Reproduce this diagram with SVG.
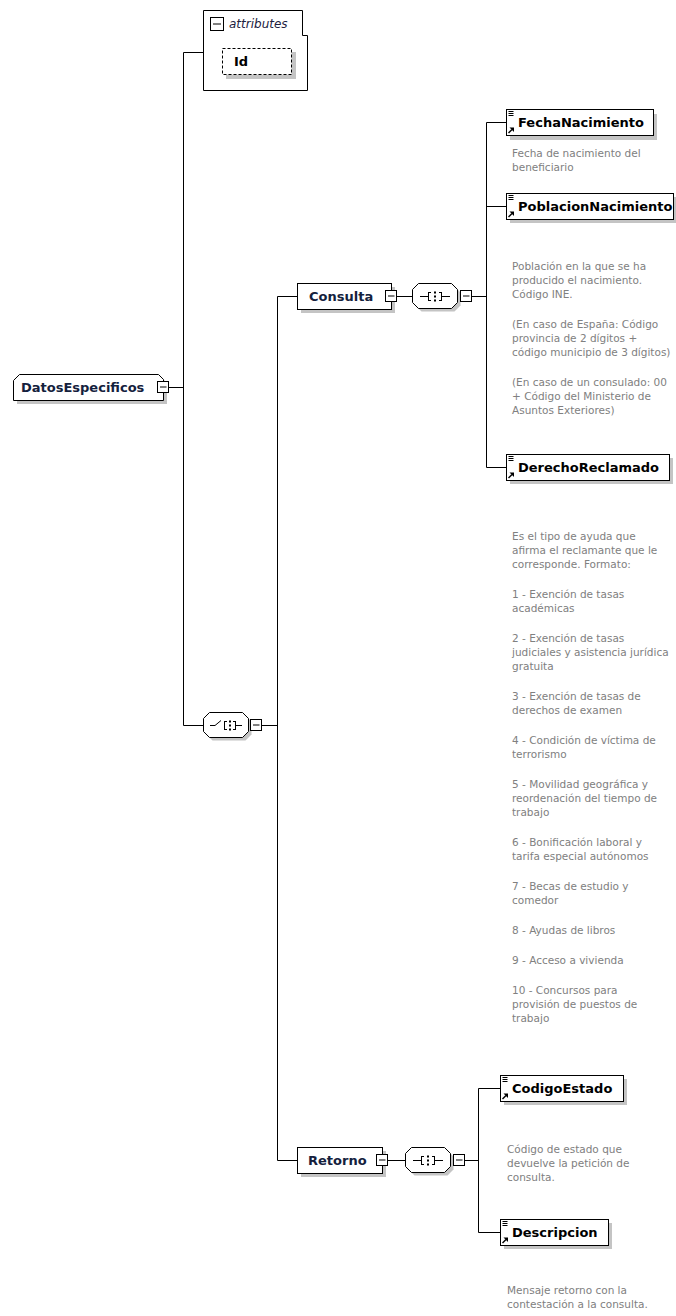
<svg xmlns="http://www.w3.org/2000/svg" width="676" height="1316" viewBox="0 0 676 1316">
<style>
.ln{stroke:#000;stroke-width:1;fill:none}
.box{fill:#fff;stroke:#000;stroke-width:1}
.sh{fill:#c4c4c4;stroke:none}
.nm{font-family:"DejaVu Sans",sans-serif;font-weight:bold;font-size:13px;fill:#000}
.nm2{font-family:"DejaVu Sans",sans-serif;font-weight:bold;font-size:13px;fill:#14213d}
.ds{font-family:"DejaVu Sans",sans-serif;font-size:10.5px;fill:#808080}
.at{font-family:"DejaVu Sans",sans-serif;font-style:italic;font-size:12px;fill:#202040}
</style>
<defs>
<g id="minus"><rect x="0.5" y="0.5" width="11" height="11" class="box"/><line x1="3" y1="6" x2="9.5" y2="6" class="ln"/></g>
<g id="ref"><path d="M2.5,2.5h5M2.5,4.5h5M2.5,6.5h5" class="ln"/><path d="M2.5,24 L6,20.5" stroke="#000" stroke-width="1.5"/><path d="M8,18.5 L8,23 L3.5,18.5 Z" fill="#000"/></g>
<path id="oct" d="M6.5,0.5 H39.5 L45.5,6.5 V19.5 L39.5,25.5 H6.5 L0.5,19.5 V6.5 Z"/>
<g id="seq"><use href="#oct" class="sh" x="3" y="3"/><use href="#oct" class="box"/><path d="M8,13.5 H16 M16.5,9 V18 M16.5,9.5 H19 M16.5,17.5 H19 M29.5,9 V18 M29.5,9.5 H27 M29.5,17.5 H27 M30,13.5 H38" class="ln"/><rect x="22" y="8.5" width="2" height="2"/><rect x="22" y="12.5" width="2" height="2"/><rect x="22" y="16.5" width="2" height="2"/></g>
<g id="cho"><use href="#oct" class="sh" x="3" y="3"/><use href="#oct" class="box"/><path d="M7,13.5 H12 L18,8.5 M21.5,9 V18 M21.5,9.5 H24 M21.5,17.5 H24 M32.5,9 V18 M32.5,9.5 H30 M32.5,17.5 H30 M33,13.5 H39" class="ln"/><rect x="26" y="8.5" width="2" height="2"/><rect x="26" y="12.5" width="2" height="2"/><rect x="26" y="16.5" width="2" height="2"/></g>
</defs>

<g id="connectors">
<path class="ln" d="M183.5,52.5 V725.5 M183.5,52.5 H203 M169,387.5 H183.5 M183.5,725.5 H203 M262,725.5 H277.5 M277.5,296.5 V1160.5 M277.5,296.5 H297 M277.5,1160.5 H297 M397,296.5 H412 M472,296.5 H486.5 M486.5,122.5 V467.5 M486.5,122.5 H506 M486.5,206.5 H506 M486.5,467.5 H506 M388,1160.5 H405 M465,1160.5 H478.5 M478.5,1088.5 V1232.5 M478.5,1088.5 H500 M478.5,1232.5 H500"/>
</g>

<g id="attributes">
<path class="box" d="M203.5,10.5 H302.5 V35.5 H307.5 V90.5 H203.5 Z"/>
<g transform="translate(210,17)"><rect x="0.5" y="0.5" width="13" height="13" class="box" stroke-width="1.5"/><line x1="3" y1="7" x2="11" y2="7" class="ln" stroke-width="1.5"/></g>
<text class="at" x="229" y="28">attributes</text>
<rect class="sh" x="226" y="52" width="70" height="27"/>
<rect x="222.5" y="48.5" width="69" height="26" fill="#fff" stroke="#000" stroke-dasharray="3,2"/>
<text class="nm" x="234" y="66">Id</text>
</g>

<g id="DatosEspecificos">
<path class="sh" d="M17,404 V385 L23,379 H163 L167,383 V404 Z"/>
<path class="box" d="M13.5,400.5 V380.5 L19.5,374.5 H158.5 L163.5,379.5 V400.5 Z"/>
<text class="nm2" x="21" y="392">DatosEspecificos</text>
<use href="#minus" x="157" y="381"/>
</g>

<g id="choice">
<use href="#cho" x="203" y="712"/>
<use href="#minus" x="250" y="719"/>
</g>

<g id="Consulta">
<rect class="sh" x="301" y="287" width="94" height="26"/>
<rect class="box" x="297.5" y="283.5" width="94" height="26"/>
<text class="nm2" x="309" y="301">Consulta</text>
<use href="#minus" x="385" y="290"/>
</g>

<g id="seq1">
<use href="#seq" x="412" y="283"/>
<use href="#minus" x="460" y="290"/>
</g>

<g id="FechaNacimiento">
<rect class="sh" x="510" y="114" width="147" height="26"/>
<rect class="box" x="506.5" y="109.5" width="147" height="26"/>
<use href="#ref" x="506" y="109"/>
<text class="nm" x="518" y="127">FechaNacimiento</text>
<text class="ds"><tspan x="512" y="157">Fecha de nacimiento del</tspan><tspan x="512" y="171">beneficiario</tspan></text>
</g>

<g id="PoblacionNacimiento">
<rect class="sh" x="510" y="197" width="167" height="26"/>
<rect class="box" x="506.5" y="193.5" width="167" height="26"/>
<use href="#ref" x="506" y="193"/>
<text class="nm" x="518" y="211">PoblacionNacimiento</text>
<text class="ds"><tspan x="512" y="270">Población en la que se ha</tspan><tspan x="512" y="284">producido el nacimiento.</tspan><tspan x="512" y="298">Código INE.</tspan><tspan x="512" y="328">(En caso de España: Código</tspan><tspan x="512" y="342">provincia de 2 dígitos +</tspan><tspan x="512" y="356">código municipio de 3 dígitos)</tspan><tspan x="512" y="386">(En caso de un consulado: 00</tspan><tspan x="512" y="400">+ Código del Ministerio de</tspan><tspan x="512" y="414">Asuntos Exteriores)</tspan></text>
</g>

<g id="DerechoReclamado">
<rect class="sh" x="510" y="458" width="163" height="26"/>
<rect class="box" x="506.5" y="454.5" width="163" height="26"/>
<use href="#ref" x="506" y="454"/>
<text class="nm" x="518" y="472">DerechoReclamado</text>
<text class="ds"><tspan x="512" y="540">Es el tipo de ayuda que</tspan><tspan x="512" y="554">afirma el reclamante que le</tspan><tspan x="512" y="568">corresponde. Formato:</tspan><tspan x="512" y="598">1 - Exención de tasas</tspan><tspan x="512" y="612">académicas</tspan><tspan x="512" y="642">2 - Exención de tasas</tspan><tspan x="512" y="656">judiciales y asistencia jurídica</tspan><tspan x="512" y="670">gratuita</tspan><tspan x="512" y="700">3 - Exención de tasas de</tspan><tspan x="512" y="714">derechos de examen</tspan><tspan x="512" y="744">4 - Condición de víctima de</tspan><tspan x="512" y="758">terrorismo</tspan><tspan x="512" y="788">5 - Movilidad geográfica y</tspan><tspan x="512" y="802">reordenación del tiempo de</tspan><tspan x="512" y="816">trabajo</tspan><tspan x="512" y="846">6 - Bonificación laboral y</tspan><tspan x="512" y="860">tarifa especial autónomos</tspan><tspan x="512" y="890">7 - Becas de estudio y</tspan><tspan x="512" y="904">comedor</tspan><tspan x="512" y="934">8 - Ayudas de libros</tspan><tspan x="512" y="964">9 - Acceso a vivienda</tspan><tspan x="512" y="994">10 - Concursos para</tspan><tspan x="512" y="1008">provisión de puestos de</tspan><tspan x="512" y="1022">trabajo</tspan></text>
</g>

<g id="Retorno">
<rect class="sh" x="301" y="1151" width="85" height="26"/>
<rect class="box" x="297.5" y="1147.5" width="85" height="26"/>
<text class="nm2" x="308" y="1165">Retorno</text>
<use href="#minus" x="376" y="1154"/>
</g>

<g id="seq2">
<use href="#seq" x="405" y="1147"/>
<use href="#minus" x="453" y="1154"/>
</g>

<g id="CodigoEstado">
<rect class="sh" x="504" y="1079" width="123" height="26"/>
<rect class="box" x="500.5" y="1075.5" width="123" height="26"/>
<use href="#ref" x="500" y="1075"/>
<text class="nm" x="512" y="1093">CodigoEstado</text>
<text class="ds"><tspan x="507" y="1153">Código de estado que</tspan><tspan x="507" y="1167">devuelve la petición de</tspan><tspan x="507" y="1181">consulta.</tspan></text>
</g>

<g id="Descripcion">
<rect class="sh" x="504" y="1223" width="108" height="26"/>
<rect class="box" x="500.5" y="1219.5" width="108" height="26"/>
<use href="#ref" x="500" y="1219"/>
<text class="nm" x="512" y="1237">Descripcion</text>
<text class="ds"><tspan x="507" y="1294">Mensaje retorno con la</tspan><tspan x="507" y="1308">contestación a la consulta.</tspan></text>
</g>
</svg>
